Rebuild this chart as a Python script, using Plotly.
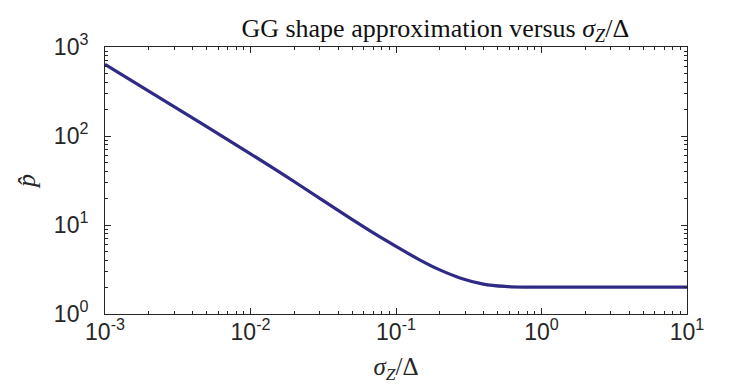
import plotly.graph_objects as go

# values (log-log)
sigma_ratio = [0.001, 0.00316, 0.01, 0.0178, 0.0316, 0.0501, 0.0708, 0.1,
               0.141, 0.2, 0.282, 0.398, 0.562, 0.794, 1.0, 10.0]
p_hat = [640, 202, 63.1, 34.7, 18.8, 11.5, 8.04, 5.75,
         4.17, 3.13, 2.51, 2.17, 2.04, 2.004, 2.0, 2.0]

x_ticks = [1e-3, 1e-2, 1e-1, 1e0, 1e1]
x_labels = ['10<sup>-3</sup>', '10<sup>-2</sup>', '10<sup>-1</sup>', '10<sup>0</sup>', '10<sup>1</sup>']
y_ticks = [1e0, 1e1, 1e2, 1e3]
y_labels = ['10<sup>0</sup>', '10<sup>1</sup>', '10<sup>2</sup>', '10<sup>3</sup>']

x_minor = [m * 10.0 ** e for e in range(-3, 1) for m in range(2, 10)]
y_minor = [m * 10.0 ** e for e in range(0, 3) for m in range(2, 10)]

line_color = '#2f2a86'
axis_color = '#262626'
serif = 'Liberation Serif, Times New Roman, serif'
sans = 'Liberation Sans, Arial, sans-serif'

fig = go.Figure()
fig.add_trace(go.Scatter(
    x=sigma_ratio, y=p_hat, mode='lines',
    line=dict(color=line_color, width=3.2, shape='spline', smoothing=1.0),
    showlegend=False,
))

axis_common = dict(
    type='log', showgrid=False, zeroline=False, automargin=False,
    showline=True, linecolor=axis_color, linewidth=1, mirror='allticks',
    ticks='inside', ticklen=6, tickcolor=axis_color, tickwidth=1,
    tickfont=dict(family=sans, size=23, color='#262626'),
)

fig.update_xaxes(
    range=[-3, 1], tickmode='array', tickvals=x_ticks, ticktext=x_labels, ticklabelstandoff=-3,
    minor=dict(tickmode='array', tickvals=x_minor, ticks='inside', ticklen=3,
               tickcolor=axis_color, tickwidth=1, showgrid=False),
    title=dict(text='<i>σ<sub>Z</sub></i>/Δ', font=dict(family=serif, size=25, color='#262626'),
               standoff=13),
    **axis_common,
)
fig.update_yaxes(
    range=[0, 3], tickmode='array', tickvals=y_ticks, ticktext=y_labels, ticklabelstandoff=11,
    minor=dict(tickmode='array', tickvals=y_minor, ticks='inside', ticklen=3,
               tickcolor=axis_color, tickwidth=1, showgrid=False),
    title=dict(text='<i>p̂</i>', font=dict(family=serif, size=26, color='#262626'), standoff=10),
    **axis_common,
)

fig.update_layout(
    width=747, height=391,
    margin=dict(l=97, r=68, t=39, b=85),
    paper_bgcolor='white', plot_bgcolor='white',
    title=dict(text='GG shape approximation versus <i>σ<sub>Z</sub></i>/Δ',
               font=dict(family=serif, size=26, color='#111111'),
               x=0.572, xanchor='center', y=0.95, yanchor='middle'),
)

fig.write_html('out.html')
